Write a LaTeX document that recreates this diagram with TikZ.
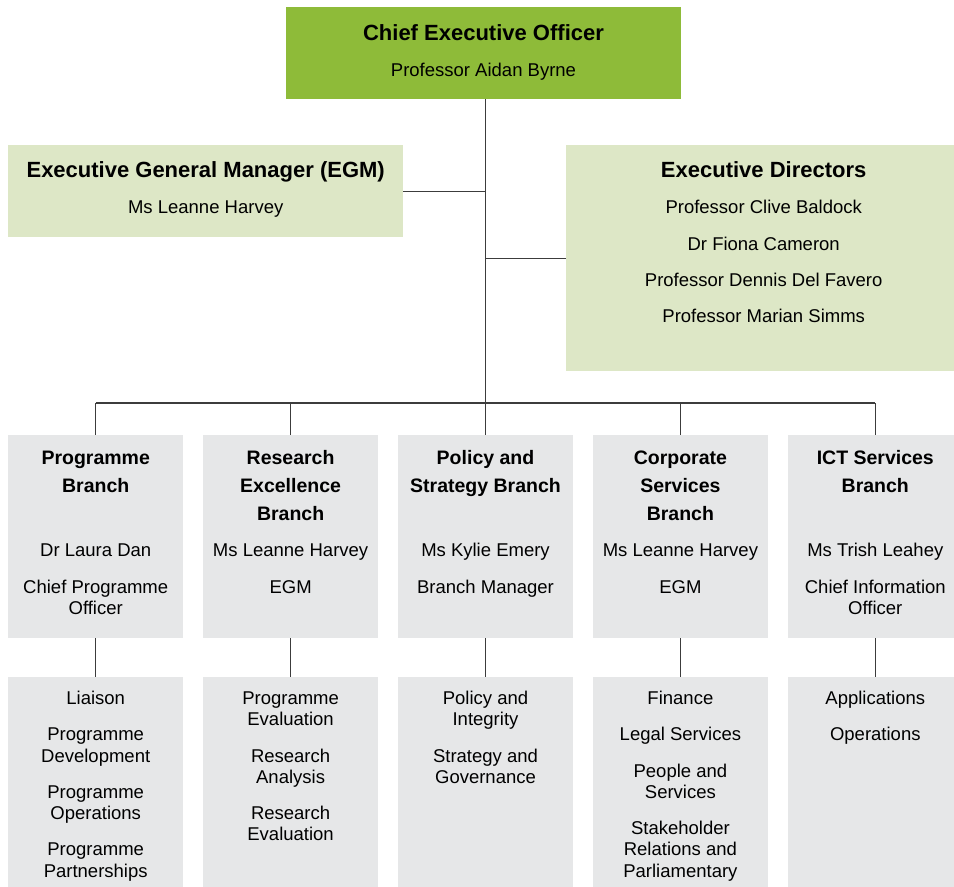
\documentclass[tikz,border=0pt]{standalone}
\usepackage{fontspec}
\setmainfont{Liberation Sans}
\usetikzlibrary{positioning}

\definecolor{ceogreen}{RGB}{142,187,57}
\definecolor{palegreen}{RGB}{221,231,198}
\definecolor{boxgrey}{RGB}{230,231,232}
\definecolor{linegrey}{RGB}{60,60,60}

\newcommand{\headfont}{\fontsize{22}{28}\selectfont\bfseries}
\newcommand{\branchfont}{\fontsize{19.5}{28}\selectfont\bfseries}
\newcommand{\itemfont}{\fontsize{18.5}{21.3}\selectfont}
% width, height, first baseline, text
\newcommand{\boxtext}[4]{\parbox[c][#2][t]{#1}{\centering\setlength{\parskip}{14.9pt}\rule{0pt}{#3}#4}}

\begin{document}
\begin{tikzpicture}[x=1pt,y=-1pt,every node/.style={inner sep=0pt},
  link/.style={draw=linegrey,line width=1.3pt},
  ceobox/.style={fill=ceogreen},
  execbox/.style={fill=palegreen},
  unitbox/.style={fill=boxgrey}]
  \useasboundingbox (0,0) rectangle (954,887);
  \clip (0,0) rectangle (954,887);

  \node[ceobox,anchor=north](ceo) at (483.5,7){\boxtext{395pt}{92pt}{33pt}{{\headfont Chief Executive Officer\par}\itemfont Professor Aidan Byrne}};
  \node[execbox,anchor=north west](egm) at (8,145){\boxtext{395pt}{92pt}{32pt}{{\headfont Executive General Manager (EGM)\par}\itemfont Ms Leanne Harvey}};
  \node[execbox,anchor=north west](exd) at (566,145){\boxtext{395pt}{226pt}{32.5pt}{{\headfont Executive Directors\par}\itemfont Professor Clive Baldock\par Dr Fiona Cameron\par Professor Dennis Del Favero\par Professor Marian Simms}};

  \node[unitbox,anchor=north west](b1) at (8,435){\boxtext{175pt}{203pt}{29.5pt}{{\branchfont Programme\\Branch\\\mbox{}\par}\itemfont Dr Laura Dan\par Chief Programme\\Officer}};
  \node[unitbox,right=19.5pt of b1](b2){\boxtext{175pt}{203pt}{29.5pt}{{\branchfont Research\\Excellence\\Branch\par}\itemfont Ms Leanne Harvey\par EGM}};
  \node[unitbox,right=19.5pt of b2](b3){\boxtext{175pt}{203pt}{29.5pt}{{\branchfont Policy and\\Strategy Branch\\\mbox{}\par}\itemfont Ms Kylie Emery\par Branch Manager}};
  \node[unitbox,right=19.5pt of b3](b4){\boxtext{175pt}{203pt}{29.5pt}{{\branchfont Corporate\\Services\\Branch\par}\itemfont Ms Leanne Harvey\par EGM}};
  \node[unitbox,right=19.5pt of b4](b5){\boxtext{175pt}{203pt}{29.5pt}{{\branchfont ICT Services\\Branch\\\mbox{}\par}\itemfont Ms Trish Leahey\par Chief Information\\Officer}};

  \node[unitbox,below=38.5pt of b1](u1){\boxtext{175pt}{215pt}{27.5pt}{\itemfont Liaison\par Programme\\Development\par Programme\\Operations\par Programme\\Partnerships}};
  \node[unitbox,below=38.5pt of b2](u2){\boxtext{175pt}{215pt}{27.5pt}{\itemfont Programme\\Evaluation\par Research\\Analysis\par Research\\Evaluation}};
  \node[unitbox,below=38.5pt of b3](u3){\boxtext{175pt}{215pt}{27.5pt}{\itemfont Policy and\\Integrity\par Strategy and\\Governance}};
  \node[unitbox,below=38.5pt of b4](u4){\boxtext{175pt}{215pt}{27.5pt}{\itemfont Finance\par Legal Services\par People and\\Services\par Stakeholder\\Relations and\\Parliamentary}};
  \node[unitbox,below=38.5pt of b5](u5){\boxtext{175pt}{215pt}{27.5pt}{\itemfont Applications\par Operations}};

  \coordinate (bus) at (b3.north |- 0,403);
  \draw[link](bus |- ceo.south)--(bus);
  \draw[link](egm.east)--(egm.east -| bus);
  \draw[link](exd.west)--(exd.west -| bus);
  \draw[link](b1.north |- bus)--(b5.north |- bus);
  \foreach \i in {1,...,5}{
    \draw[link](b\i.north |- bus)--(b\i.north);
    \draw[link](b\i.south)--(u\i.north);
  }
\end{tikzpicture}
\end{document}
